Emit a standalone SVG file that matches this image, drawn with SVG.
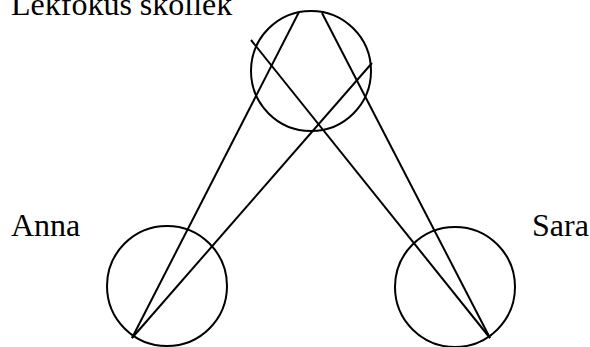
<svg xmlns="http://www.w3.org/2000/svg" width="590" height="347" viewBox="0 0 590 347">
<style>
.c{fill:none;stroke:#000;stroke-width:2}
.l{stroke:#000;stroke-width:2;fill:none}
text{font-family:"Liberation Serif","Times New Roman",serif;font-size:32px;fill:#000}
</style>
<rect width="590" height="347" fill="#fff"/>
<g id="skollek"><circle class="c" cx="311" cy="71" r="60"/><text x="11" y="15">Lekfokus skollek</text></g>
<g id="anna"><circle class="c" cx="167" cy="286" r="60"/><text x="11" y="236">Anna</text></g>
<g id="sara"><circle class="c" cx="455" cy="287" r="60"/><text x="532" y="236">Sara</text></g>
<g id="connectors">
<line class="l" x1="132" y1="338" x2="299" y2="12"/>
<line class="l" x1="132" y1="338" x2="372" y2="63"/>
<line class="l" x1="490" y1="338" x2="251" y2="40"/>
<line class="l" x1="490" y1="338" x2="322" y2="13"/>
</g>
</svg>
